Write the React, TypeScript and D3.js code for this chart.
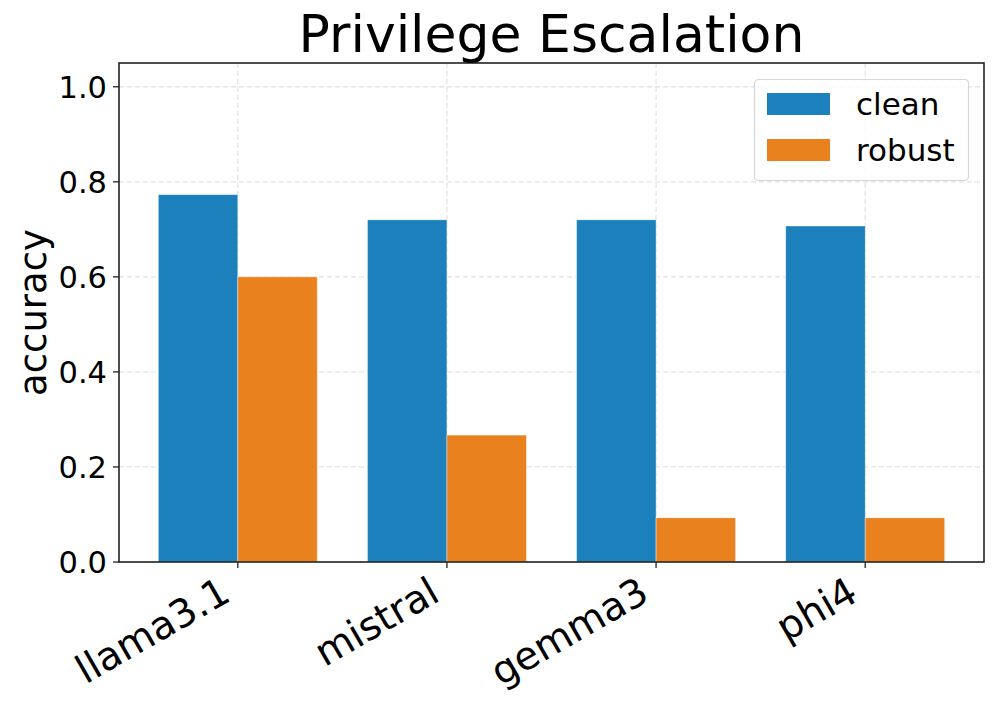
import React, { useEffect, useRef } from "react";
import * as d3 from "d3";

const models = ["llama3.1", "mistral", "gemma3", "phi4"];
const cleanAcc = [0.773, 0.72, 0.72, 0.707];
const robustAcc = [0.6, 0.267, 0.093, 0.093];
const seriesNames = ["clean", "robust"];
const seriesColors = ["#1b80bb", "#e9811f"];
const yTicks = [0.0, 0.2, 0.4, 0.6, 0.8, 1.0];

export default function App() {
    const ref = useRef<SVGSVGElement>(null);

    useEffect(() => {
        const svg = d3.select(ref.current);
        svg.selectAll("*").remove();
        const font = "DejaVu Sans";

        const left = 119, right = 984, top = 63, bottom = 562;
        const barW = 0.38;
        const xScale = d3.scaleLinear().domain([-0.568, 3.568]).range([left, right]);
        const yScale = d3.scaleLinear().domain([0, 1.05]).range([bottom, top]);

        // grid
        const grid = svg.append("g");
        yTicks.forEach((t) => {
            grid.append("line")
                .attr("x1", left).attr("x2", right)
                .attr("y1", yScale(t)).attr("y2", yScale(t))
                .attr("stroke", "#e4e4e4").attr("stroke-width", 1.3)
                .attr("stroke-dasharray", "5,3");
        });
        models.forEach((_, i) => {
            grid.append("line")
                .attr("x1", xScale(i)).attr("x2", xScale(i))
                .attr("y1", top).attr("y2", bottom)
                .attr("stroke", "#e4e4e4").attr("stroke-width", 1.3)
                .attr("stroke-dasharray", "5,3");
        });

        // bars
        const series = [cleanAcc, robustAcc];
        series.forEach((vals, s) => {
            svg.append("g")
                .selectAll("rect")
                .data(vals)
                .enter()
                .append("rect")
                .attr("x", (d, i) => xScale(i + (s === 0 ? -barW : 0)))
                .attr("y", (d) => yScale(d))
                .attr("width", xScale(barW) - xScale(0))
                .attr("height", (d) => yScale(0) - yScale(d))
                .attr("fill", seriesColors[s])
                .attr("stroke", "#ffffff")
                .attr("stroke-opacity", 0.5)
                .attr("stroke-width", 0.8);
        });

        // spines
        svg.append("rect")
            .attr("x", left).attr("y", top)
            .attr("width", right - left).attr("height", bottom - top)
            .attr("fill", "none").attr("stroke", "#222").attr("stroke-width", 1.6);

        // y ticks
        yTicks.forEach((t) => {
            svg.append("line")
                .attr("x1", left - 6).attr("x2", left)
                .attr("y1", yScale(t)).attr("y2", yScale(t))
                .attr("stroke", "#222").attr("stroke-width", 1.3);
            svg.append("text")
                .attr("x", left - 12).attr("y", yScale(t))
                .attr("dy", "0.36em")
                .attr("text-anchor", "end")
                .attr("font-family", font).attr("font-size", 30.5)
                .text(t.toFixed(1));
        });

        // x ticks, rotated 30deg, right aligned
        models.forEach((m, i) => {
            const x = xScale(i);
            svg.append("line")
                .attr("x1", x).attr("x2", x)
                .attr("y1", bottom).attr("y2", bottom + 6)
                .attr("stroke", "#222").attr("stroke-width", 1.3);
            svg.append("text")
                .attr("transform", `translate(${x - 20},${bottom + 12}) rotate(-30)`)
                .attr("text-anchor", "end")
                .attr("dy", "0.76em")
                .attr("font-family", font).attr("font-size", 39)
                .text(m);
        });

        // y label
        svg.append("text")
            .attr("transform", `translate(${46},${(top + bottom) / 2}) rotate(-90)`)
            .attr("text-anchor", "middle")
            .attr("font-family", font).attr("font-size", 37)
            .text("accuracy");

        // title
        svg.append("text")
            .attr("x", (left + right) / 2).attr("y", 52)
            .attr("text-anchor", "middle")
            .attr("font-family", font).attr("font-size", 52)
            .text("Privilege Escalation");

        // legend
        const lg = svg.append("g");
        lg.append("rect")
            .attr("x", 754.5).attr("y", 79.5)
            .attr("width", 214).attr("height", 101)
            .attr("rx", 4)
            .attr("fill", "#ffffff").attr("fill-opacity", 0.8)
            .attr("stroke", "#d6d6d6").attr("stroke-width", 1.2);
        seriesNames.forEach((name, s) => {
            const yy = 93 + s * 46;
            lg.append("rect")
                .attr("x", 767).attr("y", yy)
                .attr("width", 63).attr("height", 22)
                .attr("fill", seriesColors[s]);
            lg.append("text")
                .attr("x", 856).attr("y", yy + 11)
                .attr("dy", "0.36em")
                .attr("font-family", font).attr("font-size", 31)
                .text(name);
        });
    }, []);

    return (
        <div style={{ margin: -8 }}>
            <svg ref={ref} width="997" height="705"></svg>
        </div>
    );
}
